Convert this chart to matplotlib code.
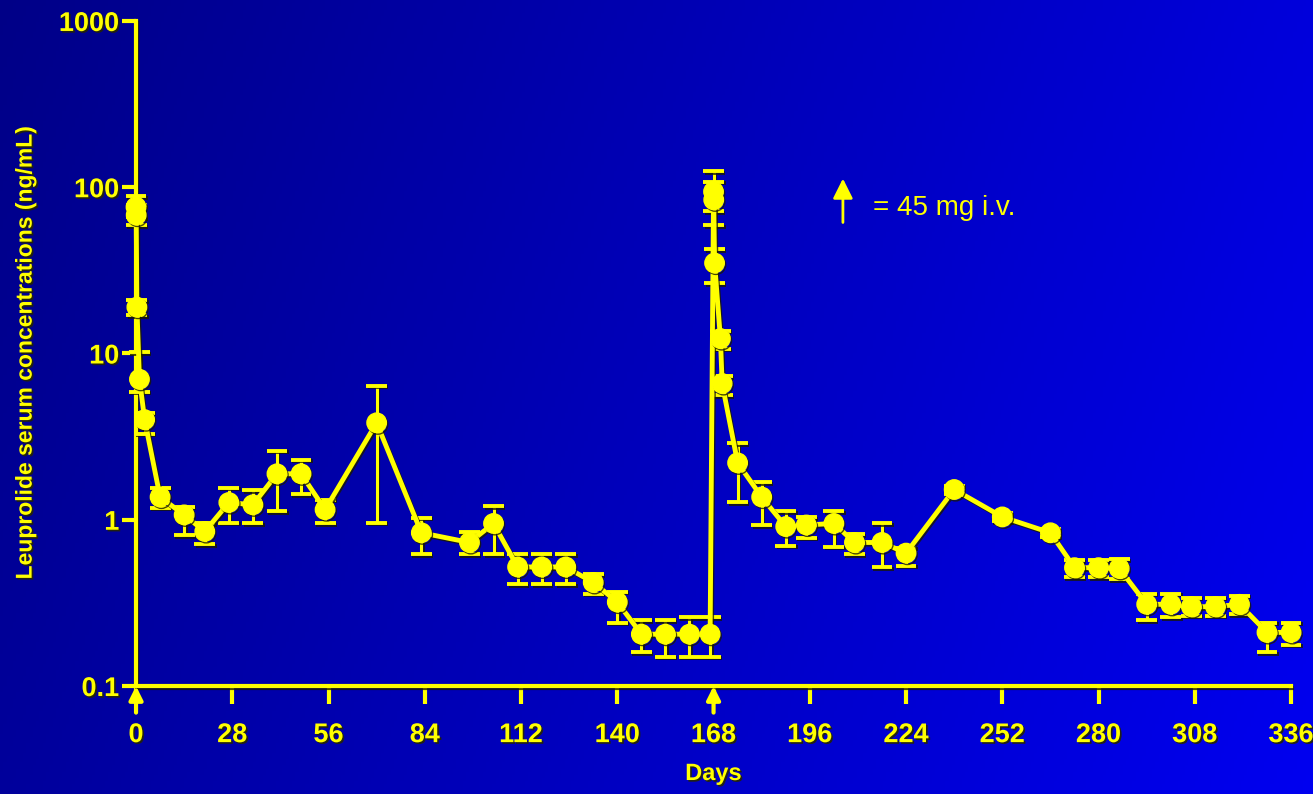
import numpy as np
import matplotlib
matplotlib.use('Agg')
import matplotlib.pyplot as plt
from matplotlib import font_manager, patheffects

# leuprolide serum levels, two 45 mg i.v. doses (day 0 and day 168)
days = [0, 0.05, 0.25, 1, 2.5, 7, 14, 20, 27, 34, 41, 48, 55, 70, 83, 97, 104,
        111, 118, 125, 133, 140, 147, 154, 161, 167,
        168, 168.05, 168.3, 170, 170.5, 175, 182, 189, 195, 203, 209, 217, 224,
        238, 252, 266, 273, 280, 286, 294, 301, 307, 314, 321, 329, 336]
conc = [76, 68, 19, 7.0, 4.0, 1.37, 1.07, 0.85, 1.27, 1.23, 1.89, 1.89, 1.15,
        3.83, 0.835, 0.73, 0.95, 0.52, 0.52, 0.52, 0.42, 0.32, 0.205, 0.205,
        0.205, 0.205,
        94, 84, 35, 12.3, 6.6, 2.2, 1.37, 0.91, 0.93, 0.95, 0.73, 0.73, 0.63,
        1.52, 1.04, 0.835, 0.515, 0.515, 0.51, 0.31, 0.31, 0.30, 0.30, 0.31,
        0.21, 0.21]
conc_hi = [88, 78, 21, 10.2, 4.4, 1.56, 1.2, 0.95, 1.56, 1.51, 2.6, 2.3, 1.32,
           6.4, 1.03, 0.84, 1.21, 0.62, 0.62, 0.62, 0.47, 0.37, 0.25, 0.25,
           0.26, 0.26,
           125, 108, 42.5, 13.7, 7.3, 2.9, 1.69, 1.13, 1.04, 1.13, 0.82, 0.95,
           0.68, 1.6, 1.1, 0.88, 0.57, 0.57, 0.58, 0.36, 0.36, 0.34, 0.34, 0.35,
           0.24, 0.24]
conc_lo = [66, 59, 17, 5.9, 3.3, 1.18, 0.81, 0.71, 0.96, 0.95, 1.13, 1.43, 0.95,
           0.96, 0.62, 0.62, 0.62, 0.41, 0.41, 0.41, 0.36, 0.24, 0.16, 0.15,
           0.15, 0.15,
           72, 59, 26.6, 10.7, 5.6, 1.28, 0.93, 0.70, 0.78, 0.69, 0.62, 0.52,
           0.53, 1.42, 0.98, 0.79, 0.45, 0.45, 0.44, 0.25, 0.26, 0.265, 0.265,
           0.27, 0.16, 0.177]
dose_days = [0, 168]
xticks = list(range(0, 337, 28))
yticks = [0.1, 1, 10, 100, 1000]
ytick_labels = ['0.1', '1', '10', '100', '1000']

yellow = '#FFFF00'
names = {f.name for f in font_manager.fontManager.ttflist}
narrow = 'Liberation Sans Narrow' if 'Liberation Sans Narrow' in names else 'Liberation Sans'

shadow = [patheffects.withSimplePatchShadow(offset=(1.2, -1.2), shadow_rgbFace=(0.15, 0.15, 0), alpha=0.9)]
line_shadow = [patheffects.SimpleLineShadow(offset=(1, -1.2), shadow_color=(0.1, 0.1, 0), alpha=0.8), patheffects.Normal()]

fig = plt.figure(figsize=(13.13, 7.94), dpi=100)

# blue gradient background
bg = fig.add_axes([0, 0, 1, 1], zorder=0)
gx, gy = np.meshgrid(np.linspace(0, 1, 400), np.linspace(0, 1, 250))
blue = 0.53 + 0.33 * gx + 0.08 * gy
img = np.dstack([np.zeros_like(blue), np.zeros_like(blue), np.clip(blue, 0, 1)])
bg.imshow(img, aspect='auto', extent=[0, 1, 0, 1], origin='upper')
bg.axis('off')

ax = fig.add_axes([0.1036, 0.136, 0.8797, 0.8376], zorder=1)
ax.patch.set_alpha(0)

d = np.array(days)
c = np.array(conc)
yerr = [c - np.array(conc_lo), np.array(conc_hi) - c]
lines = ax.errorbar(d, c, yerr=yerr, fmt='-o', color=yellow, lw=3.5, ms=14,
                    elinewidth=2.2, capsize=7.5, capthick=2.8, clip_on=False, zorder=3)
for art in lines.get_children():
    art.set_clip_on(False)
    art.set_path_effects(line_shadow)

ax.set_yscale('log')
ax.set_ylim(0.1, 1000)
ax.set_xlim(0, 336)
ax.set_xticks(xticks)
ax.set_yticks(yticks)
ax.set_yticklabels(ytick_labels)
ax.minorticks_off()

for s in ['top', 'right']:
    ax.spines[s].set_visible(False)
for s in ['left', 'bottom']:
    ax.spines[s].set_color(yellow)
    ax.spines[s].set_linewidth(3)
    ax.spines[s].set_path_effects(line_shadow)

ax.tick_params(axis='x', colors=yellow, length=13, width=3, pad=13)
ax.tick_params(axis='y', colors=yellow, length=10, width=3, pad=2)
for lab in ax.get_xticklabels() + ax.get_yticklabels():
    lab.set_fontfamily(narrow)
    lab.set_fontweight('bold')
    lab.set_fontsize(19.5)
    lab.set_path_effects(shadow)

ax.set_xlabel('Days', color=yellow, fontsize=17, fontweight='bold', family=narrow,
              labelpad=10, path_effects=shadow)
ax.set_ylabel('Leuprolide serum concentrations (ng/mL)', color=yellow, fontsize=16.5,
              fontweight='bold', family=narrow, labelpad=16, path_effects=shadow)

# dosing arrows under the axis
for dd in dose_days:
    ax.annotate('', xy=(dd, 0), xytext=(dd, -0.04), xycoords=('data', 'axes fraction'),
                arrowprops=dict(arrowstyle='-|>', color=yellow, lw=3, mutation_scale=20,
                                shrinkA=0, shrinkB=0), annotation_clip=False)

# key
ax.annotate('', xy=(0.612, 0.763), xytext=(0.612, 0.697), xycoords='axes fraction',
            arrowprops=dict(arrowstyle='-|>', color=yellow, lw=2, mutation_scale=30,
                            shrinkA=0, shrinkB=0))
ax.text(0.638, 0.719, '= 45 mg i.v.', transform=ax.transAxes, color=yellow,
        fontsize=20, family='Liberation Sans', va='center', ha='left')

fig.savefig('out.png', dpi=100)
